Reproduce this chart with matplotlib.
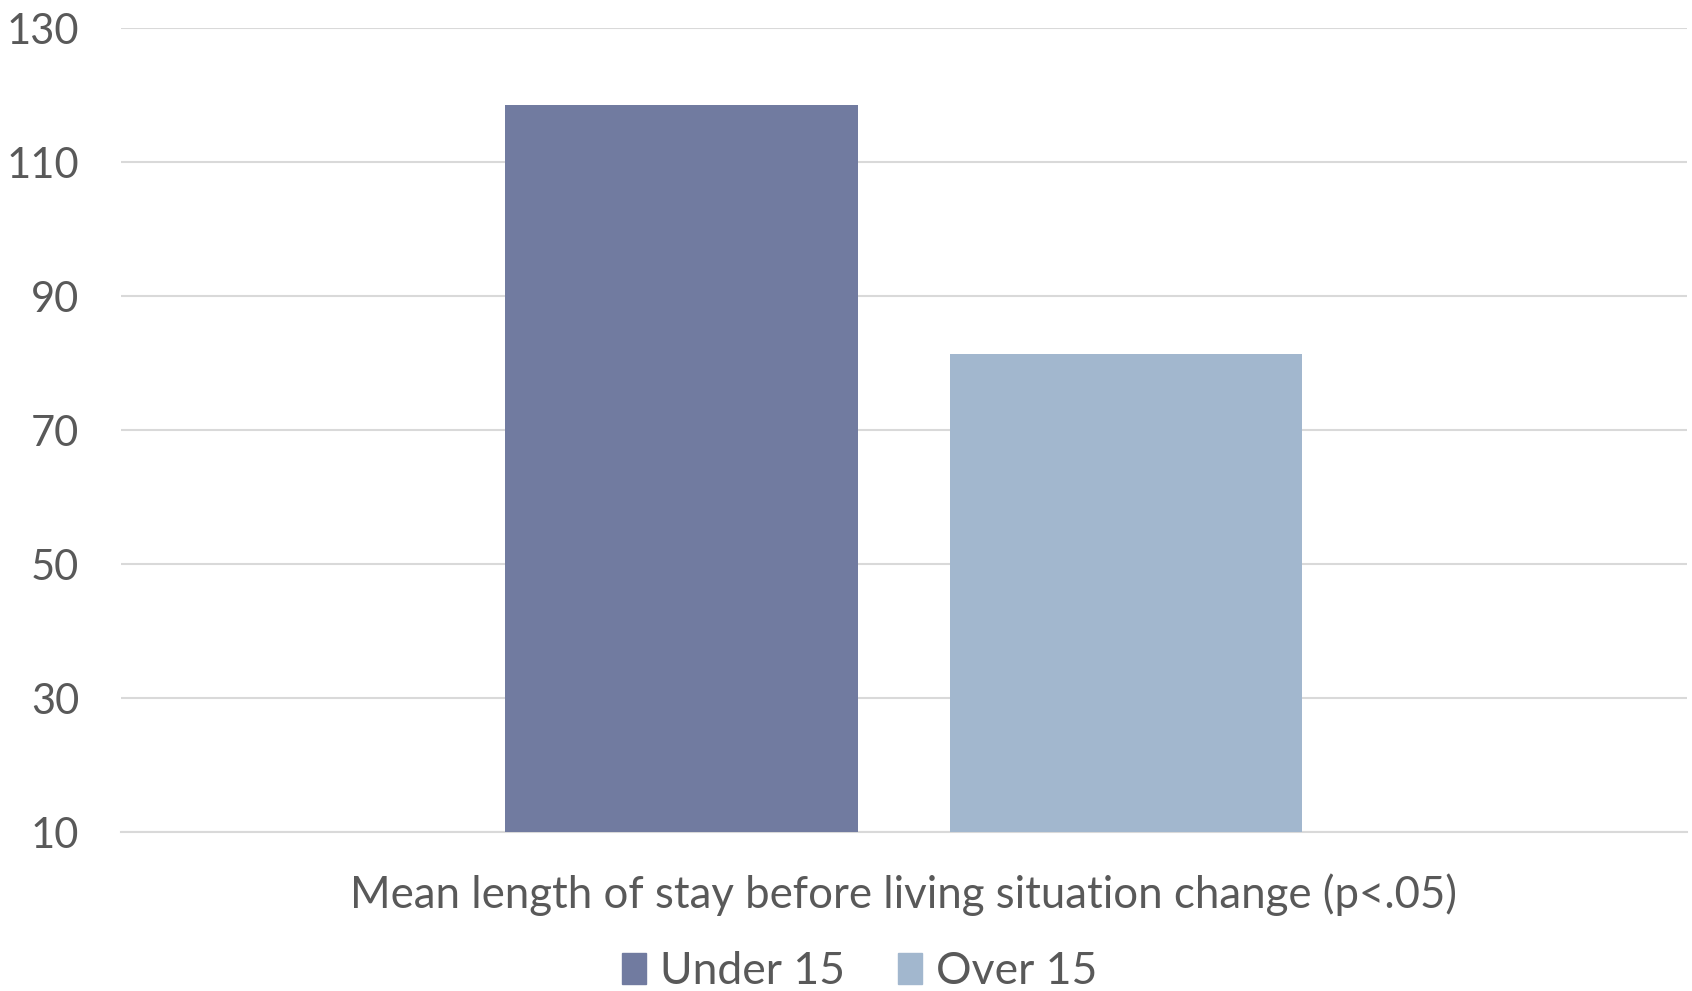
import matplotlib.pyplot as plt
from matplotlib.patches import Patch

categories = ['Mean length of stay before living situation change (p<.05)']
series_names = ['Under 15', 'Over 15']
under_15 = [118.5]
over_15 = [81.3]
y_ticks = [10, 30, 50, 70, 90, 110, 130]

text_col = '#595959'
colors = ['#717BA0', '#A2B7CE']

plt.rcParams['font.family'] = ['Lato', 'DejaVu Sans']

fig = plt.figure(figsize=(16.92, 9.91), dpi=100)
ax = fig.add_axes([0.0715, 0.1604, 0.9255, 0.8113])

x = list(range(len(categories)))
w = 0.225
ax.bar([i - 0.142 for i in x], [v - 10 for v in under_15], width=w, bottom=10,
       color=colors[0], zorder=3)
ax.bar([i + 0.142 for i in x], [v - 10 for v in over_15], width=w, bottom=10,
       color=colors[1], zorder=3)

ax.set_xlim(-0.5, 0.5)
ax.set_ylim(10, 130)
ax.set_yticks(y_ticks)
ax.set_yticklabels([str(t) for t in y_ticks])
ax.set_xticks(x)
ax.set_xticklabels(categories)

ax.grid(axis='y', color='#D9D9D9', linewidth=1.5, zorder=0)
for s in ['top', 'right', 'left']:
    ax.spines[s].set_visible(False)
ax.spines['bottom'].set_color('#D9D9D9')
ax.spines['bottom'].set_linewidth(1.5)

ax.tick_params(axis='y', length=0, labelsize=30, labelcolor=text_col, pad=30)
ax.tick_params(axis='x', length=0, labelsize=31.5, labelcolor=text_col, pad=30)

handles = [Patch(color=colors[0]), Patch(color=colors[1])]
fig.legend(handles, series_names, loc='center', bbox_to_anchor=(0.508, 0.02),
           ncol=2, frameon=False, fontsize=32, labelcolor=text_col,
           handlelength=0.55, handleheight=0.7, handletextpad=0.3, columnspacing=1.2)

fig.savefig('out.png', dpi=100)
